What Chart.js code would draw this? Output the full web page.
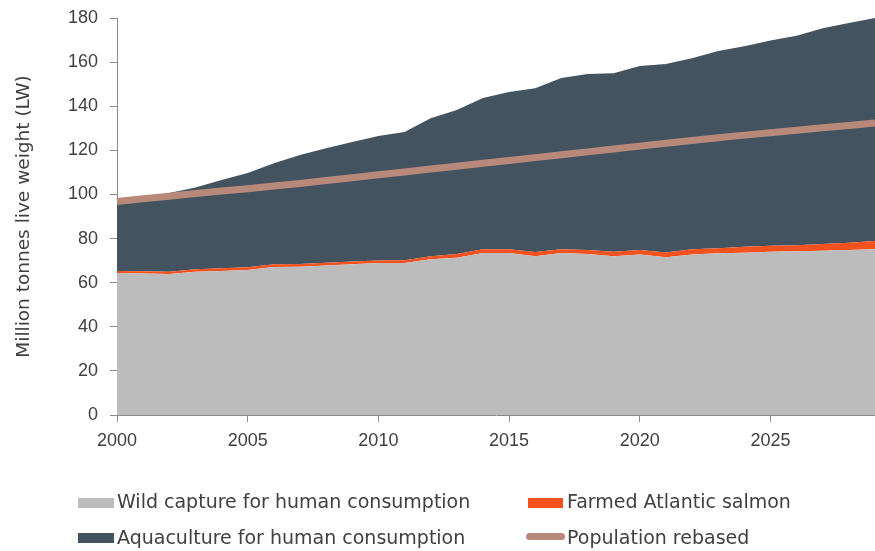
<!DOCTYPE html>
<html>
<head>
<meta charset="utf-8">
<script src="https://cdn.jsdelivr.net/npm/chart.js@4/dist/chart.umd.min.js"></script>
<style>
  html, body { margin: 0; padding: 0; background: #ffffff; }
  #wrap { position: relative; width: 875px; height: 551px; overflow: hidden; }
  #chartBox { position: absolute; left: 0; top: 0; width: 875px; height: 551px; }
  .leg { position: absolute; font-family: "DejaVu Sans", sans-serif; font-size: 19px; color: #404040; white-space: nowrap; line-height: 22px; }
  .sw { position: absolute; }
</style>
</head>
<body>
<div id="wrap">
  <div id="chartBox"><canvas id="c"></canvas></div>
  <div class="sw" style="left:78px;top:498px;width:36px;height:10px;background:#bcbcbc;"></div>
  <div class="leg" id="l1" style="left:117px;top:490px;">Wild capture for human consumption</div>
  <div class="sw" style="left:78px;top:533px;width:36px;height:10px;background:#43535f;"></div>
  <div class="leg" id="l2" style="left:117px;top:526px;">Aquaculture for human consumption</div>
  <div class="sw" style="left:528px;top:498px;width:35px;height:10px;background:#f3521f;"></div>
  <div class="leg" id="l3" style="left:567px;top:490px;">Farmed Atlantic salmon</div>
  <div class="sw" style="left:526px;top:533px;width:39px;height:7px;border-radius:4px;background:#b8897a;"></div>
  <div class="leg" id="l4" style="left:567px;top:526px;">Population rebased</div>
</div>
<script>
const years = ['2000','2001','2002','2003','2004','2005','2006','2007','2008','2009',
               '2010','2011','2012','2013','2014','2015','2016','2017','2018','2019',
               '2020','2021','2022','2023','2024','2025','2026','2027','2028','2029'];
const wildCapture = [64.4,64.2,63.9,65.0,65.3,65.7,67.1,67.2,67.8,68.4,
                     68.9,68.9,70.6,71.3,73.5,73.4,72.0,73.4,73.0,72.0,
                     72.8,71.5,72.8,73.3,73.6,74.0,74.3,74.5,74.8,75.1];
const farmedSalmon = [0.9,1.0,1.0,1.1,1.2,1.3,1.3,1.3,1.2,1.2,
                      1.1,1.3,1.4,1.7,1.7,1.8,1.9,1.8,1.8,2.0,
                      2.0,2.2,2.3,2.3,2.7,2.7,2.7,3.0,3.3,3.8];
const aquaculture = [31.2,33.2,35.7,37.1,40.0,42.7,45.8,49.4,52.0,54.2,
                     56.5,58.1,62.6,65.3,68.5,71.2,74.3,77.6,79.8,81.0,
                     83.4,85.4,86.7,89.4,90.9,93.1,95.0,97.8,99.6,101.1];
const populationRebased = [96.8,98.0,99.2,100.4,101.6,102.6,103.8,105.0,106.3,107.6,
                           108.9,110.2,111.5,112.8,114.1,115.4,116.7,118.0,119.3,120.6,
                           121.9,123.2,124.5,125.7,126.9,128.0,129.1,130.2,131.3,132.4];
const yTicks = [0,20,40,60,80,100,120,140,160,180];

const textColor = '#404040';
const axisColor = '#8c8c8c';

new Chart(document.getElementById('c'), {
  type: 'line',
  data: {
    labels: years,
    datasets: [
      { label: 'Population rebased', data: populationRebased, stack: 'pop', order: 0,
        borderColor: '#b8897a', borderWidth: 7, pointRadius: 0, fill: false, tension: 0,
        borderCapStyle: 'butt', borderJoinStyle: 'round' },
      { label: 'Wild capture for human consumption', data: wildCapture, stack: 'fish', order: 1,
        borderWidth: 0, borderColor: 'rgba(0,0,0,0)', backgroundColor: '#bcbcbc', pointRadius: 0, fill: 'origin', tension: 0 },
      { label: 'Farmed Atlantic salmon', data: farmedSalmon, stack: 'fish', order: 1,
        borderWidth: 0, borderColor: 'rgba(0,0,0,0)', backgroundColor: '#f3521f', pointRadius: 0, fill: '-1', tension: 0 },
      { label: 'Aquaculture for human consumption', data: aquaculture, stack: 'fish', order: 1,
        borderWidth: 0, borderColor: 'rgba(0,0,0,0)', backgroundColor: '#43535f', pointRadius: 0, fill: '-1', tension: 0 }
    ]
  },
  options: {
    responsive: true,
    maintainAspectRatio: false,
    animation: false,
    layout: { padding: { left: 0, right: 0, top: 18, bottom: 96 } },
    plugins: { legend: { display: false }, tooltip: { enabled: false } },
    scales: {
      x: {
        grid: { display: true, drawOnChartArea: false, offset: false, tickLength: 7,
                color: (ctx) => (ctx.index % 5 === 0 ? axisColor : 'rgba(0,0,0,0)') },
        border: { display: true, color: axisColor, width: 1 },
        ticks: { autoSkip: false, maxRotation: 0, minRotation: 0, padding: 8,
                 color: textColor, font: { family: 'Liberation Sans', size: 18 },
                 callback: (v, i) => (i % 5 === 0 ? years[i] : '') },
        afterFit: (s) => { s.height = 40; s.paddingRight = 0; s.paddingLeft = 0; }
      },
      y: {
        stacked: true,
        min: 0, max: 180,
        afterBuildTicks: (s) => { s.ticks = yTicks.map(v => ({ value: v })); },
        grid: { display: true, drawOnChartArea: false, tickLength: 7, color: axisColor },
        border: { display: true, color: axisColor, width: 1 },
        ticks: { padding: 12, color: textColor, font: { family: 'Liberation Sans', size: 18 } },
        title: { display: true, text: 'Million tonnes live weight (LW)', color: textColor,
                 font: { family: 'DejaVu Sans', size: 18.5 }, padding: { top: 13, bottom: 0 } },
        afterFit: (s) => { s.width = 117; s.paddingTop = 0; s.paddingBottom = 0; }
      }
    }
  }
});
</script>
</body>
</html>
